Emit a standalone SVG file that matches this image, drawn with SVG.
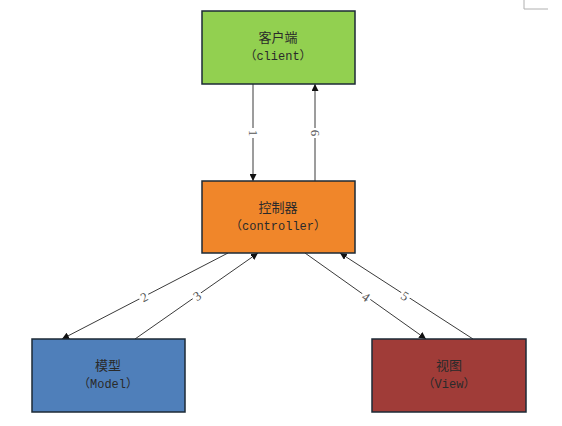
<svg xmlns="http://www.w3.org/2000/svg" width="562" height="426" viewBox="0 0 562 426">
<style>
.box{stroke:#1c2a36;stroke-width:1.5}
.cn{font-family:"Noto Sans CJK SC","Noto Sans",sans-serif;font-size:13px;fill:#2a2a2a;text-anchor:middle}
.en{font-family:"Liberation Mono","Noto Sans CJK SC",monospace;font-size:12px;fill:#2a2a2a;text-anchor:middle}
.line{stroke:#3a3a3a;stroke-width:1;fill:none}
.lbl{font-family:"Liberation Serif",serif;font-size:13px;fill:#555;text-anchor:middle;dominant-baseline:central}
.bg{fill:#fff}
</style>
<defs>
<marker id="ah" viewBox="0 0 10 10" refX="10" refY="5" markerWidth="7" markerHeight="7" orient="auto" markerUnits="userSpaceOnUse">
<path d="M0,0 L10,5 L0,10 z" fill="#111"/>
</marker>
</defs>
<rect width="562" height="426" fill="#fff"/>
<path d="M524,0 V9 H548" stroke="#b0b0b0" stroke-width="1" fill="none"/>
<g id="connectors">
<line class="line" x1="253" y1="84" x2="253" y2="181" marker-end="url(#ah)"/>
<line class="line" x1="315" y1="181" x2="315" y2="84" marker-end="url(#ah)"/>
<line class="line" x1="228" y1="253" x2="62" y2="339" marker-end="url(#ah)"/>
<line class="line" x1="135" y1="339" x2="258" y2="253" marker-end="url(#ah)"/>
<line class="line" x1="305" y1="253" x2="426" y2="339" marker-end="url(#ah)"/>
<line class="line" x1="473" y1="339" x2="340" y2="253" marker-end="url(#ah)"/>
<g transform="translate(253,133) rotate(90)"><rect class="bg" x="-5" y="-6" width="10" height="12"/><text class="lbl">1</text></g>
<g transform="translate(315,133) rotate(90)"><rect class="bg" x="-5" y="-6" width="10" height="12"/><text class="lbl">6</text></g>
<g transform="translate(144,297) rotate(-27)"><rect class="bg" x="-5" y="-6" width="10" height="12"/><text class="lbl">2</text></g>
<g transform="translate(197,296) rotate(-35)"><rect class="bg" x="-5" y="-6" width="10" height="12"/><text class="lbl">3</text></g>
<g transform="translate(366,297) rotate(35)"><rect class="bg" x="-5" y="-6" width="10" height="12"/><text class="lbl">4</text></g>
<g transform="translate(405,296) rotate(33)"><rect class="bg" x="-5" y="-6" width="10" height="12"/><text class="lbl">5</text></g>
</g>
<g id="client">
<rect class="box" x="202" y="11" width="153" height="73" fill="#92d050"/>
<text class="cn" x="278" y="42">客户端</text>
<text class="en" x="278" y="60">（client）</text>
</g>
<g id="controller">
<rect class="box" x="202" y="181" width="153" height="72" fill="#f0862a"/>
<text class="cn" x="278" y="212">控制器</text>
<text class="en" x="278" y="230">（controller）</text>
</g>
<g id="model">
<rect class="box" x="32" y="339" width="153" height="73" fill="#4f7fba"/>
<text class="cn" x="108" y="370">模型</text>
<text class="en" x="108" y="388">（Model）</text>
</g>
<g id="view">
<rect class="box" x="372" y="339" width="154" height="73" fill="#a03c38"/>
<text class="cn" x="449" y="370">视图</text>
<text class="en" x="449" y="388">（View）</text>
</g>
</svg>
